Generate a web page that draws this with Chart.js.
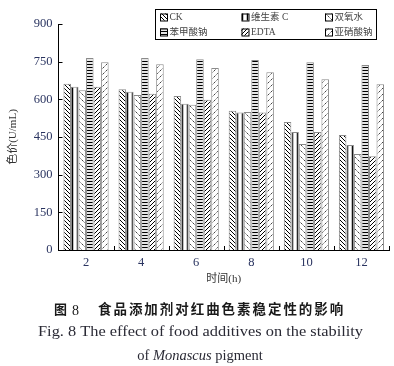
<!DOCTYPE html>
<html><head><meta charset="utf-8">
<script src="https://cdn.jsdelivr.net/npm/chart.js@4/dist/chart.umd.min.js"></script>
<style>html,body{margin:0;padding:0;background:#fff;}#wrap{width:394px;height:366px;}</style>
</head><body><div id="wrap"><canvas id="c" width="394" height="366"></canvas></div>
<script>
const categories = ['2', '4', '6', '8', '10', '12'];
const seriesNames = ['CK', '维生素 C', '双氧水', '苯甲酸钠', 'EDTA', '亚硝酸钠'];
const ck = [662, 640, 613, 555, 510, 458];
const vitC = [650, 630, 582, 548, 470, 418];
const h2o2 = [636, 617, 578, 550, 422, 382];
const benzoate = [765, 765, 760, 757, 748, 737];
const edta = [650, 622, 598, 548, 470, 373];
const nitrite = [748, 740, 725, 708, 680, 660];
const yTicks = [0, 150, 300, 450, 600, 750, 900];
const yTitle = '色价(U/mL)';
const xTitle = '时间(h)';

const FONT = "'Liberation Serif','Noto Sans CJK SC',serif";
const TICKCOL = '#2a3460';

function makePattern(kind) {
  const c = document.createElement('canvas');
  const ctx = c.getContext('2d');
  let s = 4;
  if (kind === 'sparseBack' || kind === 'sparseFwd') s = 6;
  if (kind === 'vert') s = 5;
  if (kind === 'horiz') s = 3;
  c.width = s; c.height = s;
  ctx.fillStyle = '#fff'; ctx.fillRect(0, 0, s, s);
  ctx.strokeStyle = '#000'; ctx.lineWidth = 1;
  ctx.beginPath();
  if (kind === 'back') {
    ctx.moveTo(-1, -1); ctx.lineTo(s + 1, s + 1);
    ctx.moveTo(-1, s - 1); ctx.lineTo(1, s + 1);
    ctx.moveTo(s - 1, -1); ctx.lineTo(s + 1, 1);
  } else if (kind === 'fwd') {
    ctx.moveTo(-1, s + 1); ctx.lineTo(s + 1, -1);
    ctx.moveTo(-1, 1); ctx.lineTo(1, -1);
    ctx.moveTo(s - 1, s + 1); ctx.lineTo(s + 1, s - 1);
  } else if (kind === 'vert') {
    ctx.lineWidth = 1.5;
    ctx.moveTo(2.5, 0); ctx.lineTo(2.5, s);
  } else if (kind === 'horiz') {
    ctx.lineWidth = 1.2;
    ctx.moveTo(0, 1.5); ctx.lineTo(s, 1.5);
  } else if (kind === 'sparseBack') {
    ctx.strokeStyle = '#444';
    ctx.moveTo(0.5, 0.5); ctx.lineTo(2.5, 2.5);
    ctx.moveTo(3.5, 3.5); ctx.lineTo(5.5, 5.5);
  } else if (kind === 'sparseFwd') {
    ctx.strokeStyle = '#444';
    ctx.moveTo(0.5, 2.5); ctx.lineTo(2.5, 0.5);
    ctx.moveTo(3.5, 5.5); ctx.lineTo(5.5, 3.5);
  }
  ctx.stroke();
  return document.getElementById('c').getContext('2d').createPattern(c, 'repeat');
}

const patterns = [makePattern('back'), makePattern('vert'), makePattern('sparseBack'),
                  makePattern('horiz'), makePattern('fwd'), makePattern('sparseFwd')];
const seriesData = [ck, vitC, h2o2, benzoate, edta, nitrite];

const datasets = seriesNames.map((n, i) => ({
  label: n,
  data: seriesData[i],
  backgroundColor: patterns[i],
  borderColor: '#8a8a8a',
  borderWidth: 1,
  categoryPercentage: 0.82,
  barPercentage: 1.0
}));

const decor = {
  id: 'decor',
  afterDraw(chart) {
    const ctx = chart.ctx;
    const xs = chart.scales.x, ys = chart.scales.y;
    const area = chart.chartArea;
    ctx.save();
    ctx.strokeStyle = '#000'; ctx.lineWidth = 1;
    ctx.beginPath();
    yTicks.forEach(v => {
      const y = Math.round(ys.getPixelForValue(v)) + 0.5;
      ctx.moveTo(area.left, y); ctx.lineTo(area.left + 4, y);
    });
    for (let i = 0; i < categories.length; i++) {
      const xb = i < categories.length - 1
        ? (xs.getPixelForValue(i) + xs.getPixelForValue(i + 1)) / 2
        : area.right;
      const x = Math.round(xb) + 0.5;
      ctx.moveTo(x, area.bottom); ctx.lineTo(x, area.bottom - 4);
    }
    ctx.stroke();

    // legend
    const bx = 155.5, by = 9.5, bw = 221, bh = 30;
    ctx.strokeStyle = '#000'; ctx.lineWidth = 1;
    ctx.strokeRect(bx, by, bw, bh);
    const colX = [160, 241.5, 325];
    const rowY = [17, 32];
    ctx.font = '9.5px ' + FONT;
    ctx.textBaseline = 'middle';
    ctx.textAlign = 'left';
    seriesNames.forEach((n, i) => {
      const cx = colX[i % 3], cy = rowY[Math.floor(i / 3)];
      ctx.fillStyle = patterns[i];
      ctx.fillRect(cx, cy - 3.5, 7, 7);
      ctx.strokeStyle = '#000';
      ctx.strokeRect(cx + 0.5, cy - 3.5 + 0.5, 7, 7);
      ctx.fillStyle = '#444';
      ctx.fillText(n, cx + 9.5, cy + 0.5);
    });

    // caption
    ctx.fillStyle = '#1a1a1a';
    ctx.textAlign = 'left';
    ctx.textBaseline = 'middle';
    ctx.font = 'bold 13px ' + FONT;
    ctx.fillText('图', 54, 311);
    ctx.font = '14px ' + FONT;
    ctx.fillText('8', 72, 311);
    const cap = '食品添加剂对红曲色素稳定性的影响';
    ctx.font = 'bold 13.5px ' + FONT;
    for (let i = 0; i < cap.length; i++) ctx.fillText(cap[i], 98 + i * 15.45, 311);

    ctx.fillStyle = '#2a2a35';
    ctx.font = '14.5px ' + FONT;
    const l2 = 'Fig. 8 The effect of food additives on the stability';
    const w2 = ctx.measureText(l2).width;
    ctx.save();
    ctx.translate(38, 332);
    ctx.scale(325 / w2, 1);
    ctx.fillText(l2, 0, 0);
    ctx.restore();

    const p1 = 'of ', p2 = 'Monascus', p3 = ' pigment';
    ctx.font = '14.5px ' + FONT;
    const a = ctx.measureText(p1).width;
    const c3 = ctx.measureText(p3).width;
    ctx.font = 'italic 14.5px ' + FONT;
    const b = ctx.measureText(p2).width;
    let x0 = 200 - (a + b + c3) / 2;
    ctx.font = '14.5px ' + FONT; ctx.fillText(p1, x0, 356);
    ctx.font = 'italic 14.5px ' + FONT; ctx.fillText(p2, x0 + a, 356);
    ctx.font = '14.5px ' + FONT; ctx.fillText(p3, x0 + a + b, 356);
    ctx.restore();
  }
};

new Chart(document.getElementById('c'), {
  type: 'bar',
  data: { labels: categories, datasets },
  options: {
    responsive: false,
    animation: false,
    devicePixelRatio: 1,
    layout: { padding: { top: 24, right: 5, left: 0, bottom: 80 } },
    plugins: { legend: { display: false }, tooltip: { enabled: false } },
    scales: {
      x: {
        offset: true,
        grid: { display: false, drawTicks: false },
        border: { display: true, color: '#000', width: 1 },
        ticks: { color: TICKCOL, font: { family: FONT, size: 12.5 }, padding: 5, maxRotation: 0 },
        title: { display: true, text: xTitle, color: '#333', font: { family: FONT, size: 11 }, padding: { top: 0, bottom: 0 } },
        afterFit(s) { s.height = 36; }
      },
      y: {
        min: 0, max: 900,
        afterBuildTicks(s) { s.ticks = yTicks.map(v => ({ value: v })); },
        grid: { display: false, drawTicks: false },
        border: { display: true, color: '#000', width: 1 },
        ticks: { color: TICKCOL, font: { family: FONT, size: 12.5 }, padding: 6 },
        title: { display: true, text: yTitle, color: '#333', font: { family: FONT, size: 11 }, padding: { top: 7, bottom: 0 } },
        afterFit(s) { s.width = 58.5; }
      }
    }
  },
  plugins: [decor]
});
</script></body></html>
